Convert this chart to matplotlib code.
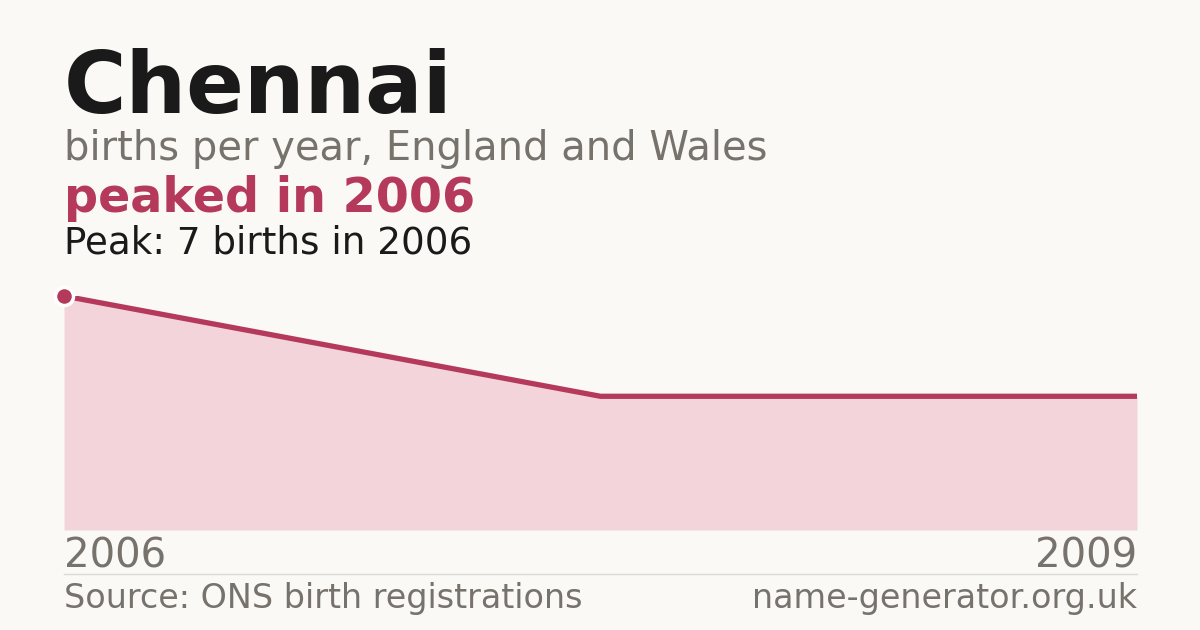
import matplotlib.pyplot as plt

years = ["2006", "2008", "2009"]
births = [7, 4, 4]

title = "Chennai"
subtitle = "births per year, England and Wales"
headline = "peaked in 2006"
peak_note = "Peak: 7 births in 2006"
source = "Source: ONS birth registrations"
site = "name-generator.org.uk"

bg = "#faf9f5"
red = "#b5395a"
pink = "#f2d4da"
grey = "#77726c"
dark = "#1a1a1a"

W, H = 1200, 630
fig = plt.figure(figsize=(12, 6.3), dpi=100, facecolor=bg)

def fy(y):
    # pixel row from top -> figure fraction
    return 1 - y / H

fig.text(64 / W, fy(113), title, fontsize=61.3, fontweight="bold", color=dark, va="baseline")
fig.text(64 / W, fy(160), subtitle, fontsize=28.8, color=grey, va="baseline")
fig.text(64 / W, fy(212), headline, fontsize=34.3, fontweight="bold", color=red, va="baseline")
fig.text(64 / W, fy(253), peak_note, fontsize=26.8, color=dark, va="baseline")

ax = fig.add_axes([64 / W, fy(530), (1137 - 64) / W, (530 - 296) / H])
ax.set_facecolor(bg)
x = list(range(len(births)))
ax.fill_between(x, births, 0, color=pink, lw=0)
ax.plot(x, births, color=red, lw=3.8, solid_capstyle="butt")
ax.plot([0], [births[0]], "o", ms=13, mfc=red, mec="white", mew=2.5, clip_on=False, zorder=5)
ax.set_xlim(0, len(births) - 1)
ax.set_ylim(0, max(births))
ax.set_yticks([])
ax.set_xticks([0, len(births) - 1])
ax.set_xticklabels([years[0], years[-1]], fontsize=29, color=grey)
labs = ax.get_xticklabels()
labs[0].set_ha("left")
labs[-1].set_ha("right")
ax.tick_params(axis="x", length=0, pad=5)
for s in ax.spines.values():
    s.set_visible(False)

fig.add_artist(plt.Line2D([64 / W, 1137 / W], [fy(574), fy(574)], color="#dddad3", lw=1))
fig.text(64 / W, fy(608), source, fontsize=24, color=grey, va="baseline")
fig.text(1137 / W, fy(608), site, fontsize=24, color=grey, va="baseline", ha="right")

fig.savefig("out.png", dpi=100, facecolor=bg)
